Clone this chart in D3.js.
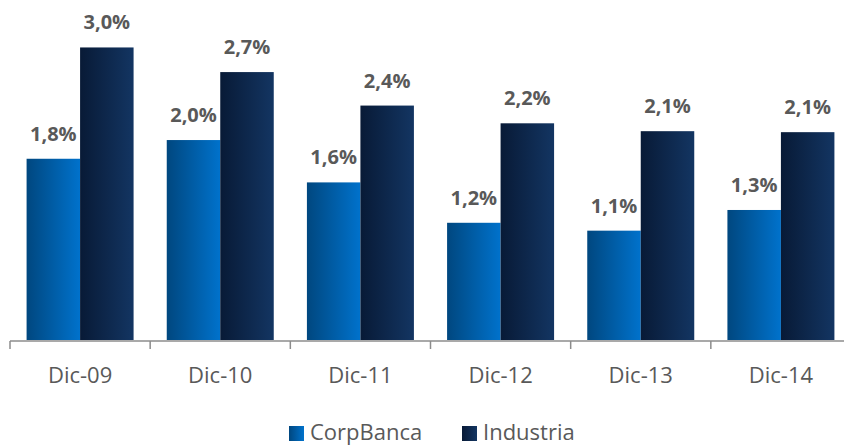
<!DOCTYPE html>
<html>
<head>
<meta charset="utf-8">
<script src="https://cdn.jsdelivr.net/npm/d3@7"></script>
<style>
  body { margin: 0; background: #fff; }
  text { font-family: "Open Sans", "DejaVu Sans", sans-serif; fill: #595959; }
</style>
</head>
<body>
<div id="chart"></div>
<script>
// data
const categories = ["Dic-09", "Dic-10", "Dic-11", "Dic-12", "Dic-13", "Dic-14"];
const seriesNames = ["CorpBanca", "Industria"];
const corpBanca = [1.84, 2.03, 1.60, 1.19, 1.11, 1.32];
const industria = [2.97, 2.72, 2.38, 2.20, 2.12, 2.11];

const width = 844;
const height = 445;
const baseY = 340;

const rows = categories.map((c, i) => ({ cat: c, values: [corpBanca[i], industria[i]] }));

const svg = d3.select("#chart")
  .append("svg")
    .attr("width", width)
    .attr("height", height);

// gradients for the two series
const defs = svg.append("defs");
const gradStops = [["#00477f", "#0072cc"], ["#081a36", "#133562"]];
gradStops.forEach((s, i) => {
  const g = defs.append("linearGradient")
    .attr("id", "grad" + i)
    .attr("x1", "0%").attr("x2", "100%")
    .attr("y1", "0%").attr("y2", "0%");
  g.append("stop").attr("offset", "0%").attr("stop-color", s[0]);
  g.append("stop").attr("offset", "100%").attr("stop-color", s[1]);
});

// scales
const x = d3.scaleBand()
  .domain(categories)
  .range([10, 851])
  .padding(0);

const xSub = d3.scaleBand()
  .domain(seriesNames)
  .range([0, x.bandwidth()])
  .paddingInner(0)
  .paddingOuter(0.31);

const y = d3.scaleLinear()
  .domain([0, 3.5])
  .range([baseY, baseY - 3.5 * 98.5]);

const fmt = v => d3.format(".1f")(v).replace(".", ",") + "%";

// bars
const groups = svg.selectAll(".cat")
  .data(rows)
  .join("g")
    .attr("class", "cat")
    .attr("transform", d => `translate(${x(d.cat)},0)`);

groups.selectAll("rect")
  .data(d => d.values.map((v, i) => ({ name: seriesNames[i], v: v, i: i })))
  .join("rect")
    .attr("x", d => xSub(d.name))
    .attr("y", d => y(d.v))
    .attr("width", xSub.bandwidth())
    .attr("height", d => baseY - y(d.v))
    .attr("fill", d => `url(#grad${d.i})`);

groups.selectAll(".val")
  .data(d => d.values.map((v, i) => ({ name: seriesNames[i], v: v })))
  .join("text")
    .attr("class", "val")
    .attr("x", d => xSub(d.name) + xSub.bandwidth() / 2)
    .attr("y", d => y(d.v) - 18)
    .attr("text-anchor", "middle")
    .attr("font-size", 20)
    .attr("font-weight", "bold")
    .text(d => fmt(d.v));

// axis line and boundary ticks
const axisG = svg.append("g");
axisG.append("line")
  .attr("x1", x.range()[0])
  .attr("x2", x.range()[1])
  .attr("y1", baseY + 1)
  .attr("y2", baseY + 1)
  .attr("stroke", "#8c8c8c")
  .attr("stroke-width", 1.5);

const tickXs = categories.map(c => x(c)).concat([x.range()[1]]);
axisG.selectAll(".tick")
  .data(tickXs)
  .join("line")
    .attr("x1", d => d)
    .attr("x2", d => d)
    .attr("y1", baseY + 1)
    .attr("y2", baseY + 9)
    .attr("stroke", "#8c8c8c")
    .attr("stroke-width", 1.5);

axisG.selectAll(".catlabel")
  .data(categories)
  .join("text")
    .attr("class", "catlabel")
    .attr("x", d => x(d) + x.bandwidth() / 2)
    .attr("y", 383)
    .attr("text-anchor", "middle")
    .attr("font-size", 22)
    .text(d => d);

// legend
const legendX = [289, 462];
const legend = svg.selectAll(".legend")
  .data(seriesNames)
  .join("g")
    .attr("class", "legend")
    .attr("transform", (d, i) => `translate(${legendX[i]},426)`);

legend.append("rect")
  .attr("width", 15)
  .attr("height", 15)
  .attr("fill", (d, i) => `url(#grad${i})`);

legend.append("text")
  .attr("x", 21)
  .attr("y", 14)
  .attr("font-size", 22)
  .text(d => d);
</script>
</body>
</html>
